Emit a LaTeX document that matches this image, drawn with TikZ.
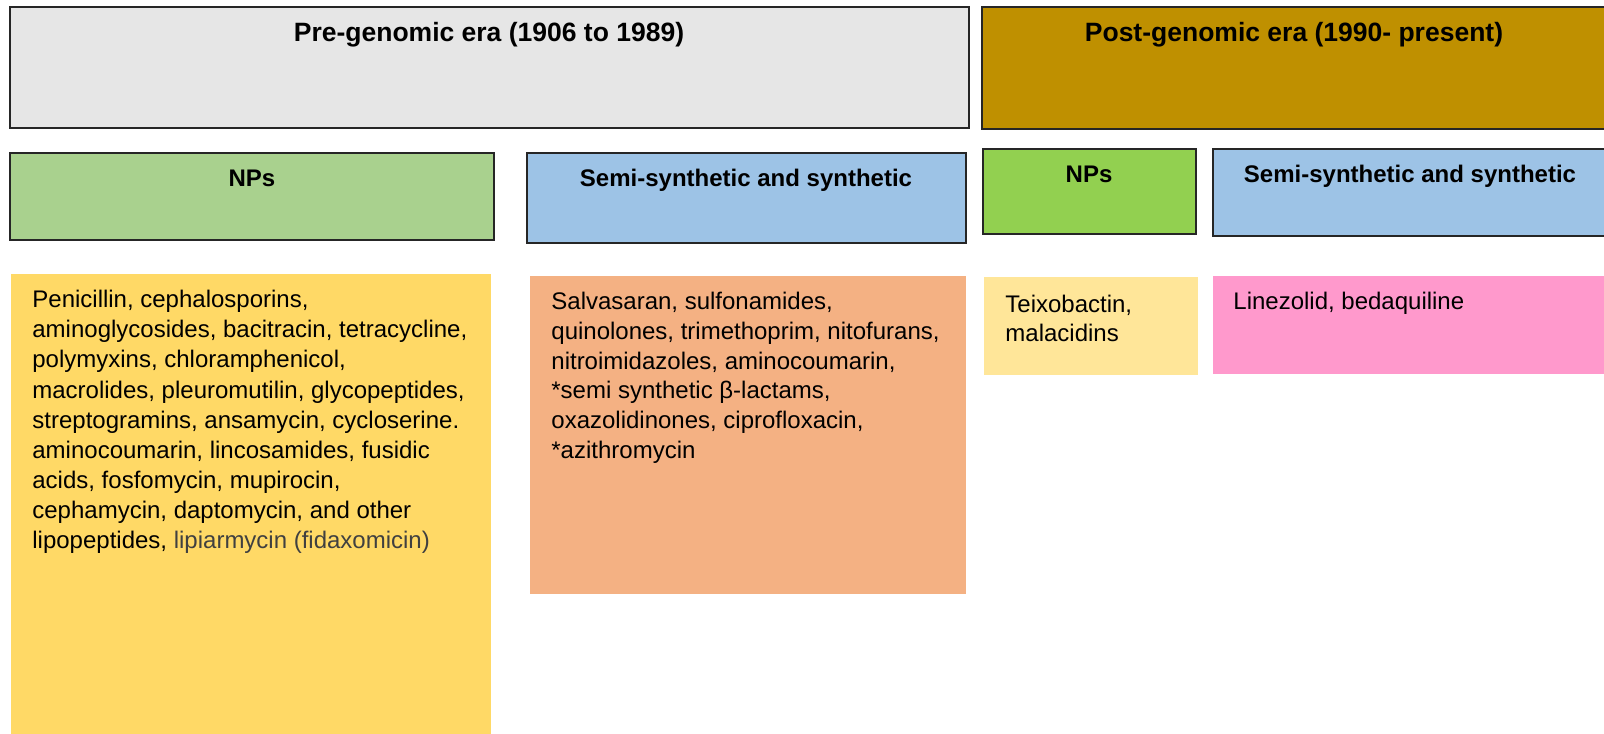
\documentclass[tikz,border=0pt]{standalone}
\usepackage{fontspec}
\setmainfont{Liberation Sans}
\usetikzlibrary{fit}

\definecolor{pregray}{HTML}{E6E6E6}
\definecolor{postgold}{HTML}{BF9000}
\definecolor{npgreen}{HTML}{A9D18E}
\definecolor{npbright}{HTML}{92D050}
\definecolor{synblue}{HTML}{9DC3E6}
\definecolor{listyellow}{HTML}{FFD966}
\definecolor{listorange}{HTML}{F4B183}
\definecolor{listpale}{HTML}{FFE699}
\definecolor{listpink}{HTML}{FF99CC}
\definecolor{fadedtxt}{HTML}{404040}

\begin{document}
\begin{tikzpicture}[x=0.5pt, y=-0.5pt,
   box/.style={inner sep=0pt, outer sep=0pt},
   hdr/.style={box, draw=black!85, line width=0.7pt},
   eratxt/.style={anchor=base, inner sep=0pt, font=\fontsize{13.25}{16}\selectfont\bfseries},
   hdrtxt/.style={anchor=base, inner sep=0pt, font=\fontsize{12}{15}\selectfont\bfseries},
   listtxt/.style={anchor=north west, inner sep=0pt, align=left, font=\fontsize{12}{14.85}\selectfont}]
   \useasboundingbox (0,0) rectangle (1604,733);

   % era headers
   \node[hdr, fill=pregray, fit={(10,7) (969,128)}] (preEra) {};
   \node[hdr, fill=postgold, fit={(982,7) (1612,129)}] (postEra) {};
   \node[eratxt] (preTitle) at (489,42) {Pre-genomic era (1906 to 1989)};
   \node[eratxt] (postTitle) at (1294,42) {Post-genomic era (1990- present)};

   % class headers
   \node[hdr, fill=npgreen, fit={(10,153) (494,240)}] (preNP) {};
   \node[hdr, fill=synblue, fit={(527,153) (966,243)}] (preSyn) {};
   \node[hdr, fill=npbright, fit={(983,149) (1196,234)}] (postNP) {};
   \node[hdr, fill=synblue, fit={(1213,149) (1612,236)}] (postSyn) {};
   \node[hdrtxt] (preNPtxt) at (252,186.5) {NPs};
   \node[hdrtxt] (preSyntxt) at (746,186.5) {Semi-synthetic and synthetic};
   \node[hdrtxt] (postNPtxt) at (1089,182) {NPs};
   \node[hdrtxt] (postSyntxt) at (1410,182) {Semi-synthetic and synthetic};

   % lists
   \node[box, fill=listyellow, fit={(11,274) (491,740)}] (preNPlist) {};
   \node[box, fill=listorange, fit={(530,276) (966,594)}] (preSynlist) {};
   \node[box, fill=listpale, fit={(984,277) (1198,375)}] (postNPlist) {};
   \node[box, fill=listpink, fit={(1213,276) (1612,374)}] (postSynlist) {};

   \node[listtxt, font=\fontsize{12}{15.05}\selectfont] (preNPnames) at (32,290) {Penicillin, cephalosporins,\\
      aminoglycosides, bacitracin, tetracycline,\\
      polymyxins, chloramphenicol,\\
      macrolides, pleuromutilin, glycopeptides,\\
      streptogramins, ansamycin, cycloserine.\\
      aminocoumarin, lincosamides, fusidic\\
      acids, fosfomycin, mupirocin,\\
      cephamycin, daptomycin, and other\\
      lipopeptides, \textcolor{fadedtxt}{lipiarmycin (fidaxomicin)}};
   \node[listtxt] (preSynnames) at (551,292) {Salvasaran, sulfonamides,\\
      quinolones, trimethoprim, nitofurans,\\
      nitroimidazoles, aminocoumarin,\\
      *semi synthetic β-lactams,\\
      oxazolidinones, ciprofloxacin,\\
      *azithromycin};
   \node[listtxt] (postNPnames) at (1005,294.5) {Teixobactin,\\ malacidins};
   \node[listtxt, anchor=base west] (postSynnames) at (1233,309) {Linezolid, bedaquiline};
\end{tikzpicture}
\end{document}
